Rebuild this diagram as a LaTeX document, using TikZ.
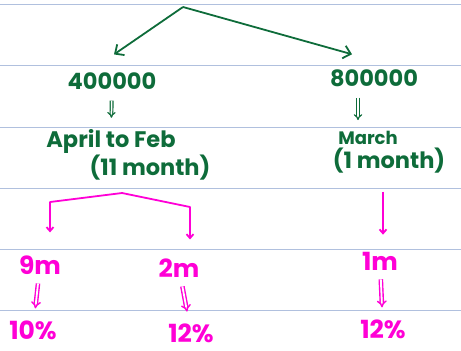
\documentclass[tikz,border=0pt]{standalone}
\usepackage{fontspec}
\setmainfont{Poppins}
\usetikzlibrary{arrows.meta,positioning}
\definecolor{inkgreen}{RGB}{14,108,58}
\definecolor{inkpink}{RGB}{255,0,214}
\definecolor{ruling}{RGB}{176,192,222}
\tikzset{
greenlabel/.style={text=inkgreen,inner sep=1pt,align=center,font=\fontsize{22.5}{24}\selectfont\bfseries},
pinklabel/.style={text=inkpink,inner sep=1pt,align=center,font=\fontsize{25}{27}\selectfont\bfseries},
greenbranch/.style={draw=inkgreen,-{Straight Barb[length=7pt,width=13pt]},line width=1.8pt,line join=round},
pinkbranch/.style={draw=inkpink,-{Straight Barb[length=4pt,width=7pt]},line width=1.8pt,line join=round},
thengreen/.style={draw=inkgreen,-{Implies},double,double distance=1.5pt,line width=1.2pt,shorten <=10pt,shorten >=10pt},
thenpink/.style={draw=inkpink,-{Implies},double,double distance=1.8pt,line width=1.4pt,shorten <=8pt,shorten >=11pt}
}

\begin{document}
\begin{tikzpicture}[x=1pt,y=-1pt]
\useasboundingbox (0,0) rectangle (461,351);
% paper rules
\foreach \y in {4,65,127,188,249,310}
  \draw[ruling,line width=1pt] (0,\y) -- (461,\y);

% green part
\coordinate (top) at (183,7);
\node[greenlabel] (first) at (112,81) {400000};
\node[greenlabel] (second) at (374,78) {800000};
\node[greenlabel] (april) at (111,141) {April to Feb};
\node[greenlabel,below=0pt of april,xshift=39pt] (elevenmonths) {(11 month)};
\node[greenlabel,font=\fontsize{18}{20}\selectfont\bfseries] (march) at (368,138) {March};
\node[greenlabel,below=1pt of march,xshift=21pt] (onemonth) {(1 month)};
\draw[greenbranch] (top) -- ([xshift=2pt,yshift=17pt]first.north);
\draw[greenbranch] (top) -- ([xshift=-22pt,yshift=14pt]second.north);
\draw[thengreen] (first) -- (april);
\draw[thengreen] ([xshift=-16pt]second.south) -- ([xshift=-10pt]march.north);

% pink part
\coordinate (split) at (122,193);
\node[pinklabel] (nine) at (40,265) {9m};
\node[pinklabel] (two) at (179,268) {2m};
\node[pinklabel] (one) at (380,261) {1m};
\node[pinklabel] (tenpc) at (33,330) {10\%};
\node[pinklabel] (twelvepc) at (191,333) {12\%};
\node[pinklabel] (twelvepcb) at (383,329) {12\%};
\draw[pinkbranch,shorten >=22pt] (split) -- ++(-72,9) -| ([xshift=10pt]nine.north);
\draw[pinkbranch,shorten >=18pt] (split) -- ++(68,14) -| ([xshift=11pt]two.north);
\draw[pinkbranch,shorten <=17pt,shorten >=16pt] ([xshift=-6pt]onemonth.south) -- ([xshift=3pt]one.north);
\draw[thenpink] (nine) -- (tenpc);
\draw[thenpink] (two) -- (twelvepc);
\draw[thenpink] (one) -- (twelvepcb);
\end{tikzpicture}
\end{document}
